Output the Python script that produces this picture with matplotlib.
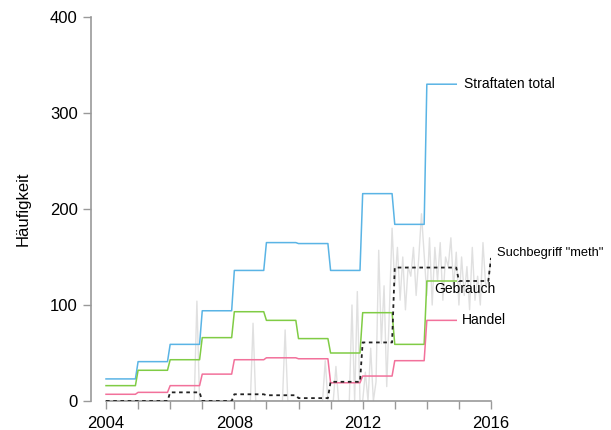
import numpy as np
import matplotlib
matplotlib.use("Agg")
import matplotlib.pyplot as plt

plt.rcParams['font.family'] = ['Liberation Sans', 'DejaVu Sans']

# Jahreswerte Polizeistatistik 2004-2014
years = np.arange(2004, 2015)
straftaten_total = [23, 41, 59, 94, 136, 165, 164, 136, 216, 184, 330]
gebrauch = [16, 32, 43, 66, 93, 84, 65, 50, 92, 59, 125]
handel = [7, 9, 16, 28, 43, 45, 44, 19, 26, 42, 84]

# Suchbegriff "meth": Jahresmittel 2004-2016 (2016 nur Januar)
meth_years = np.arange(2004, 2017)
meth_yearly = [0, 0, 9, 0, 7, 6, 3, 20, 61, 139, 139, 125, 149]

# monatliche Suchanfragen (Index), 2004-01 bis 2016-01
meth_monthly = (
    [0] * 12 +
    [0] * 12 +
    [0, 0, 0, 0, 0, 0, 0, 0, 0, 0, 104, 0] +
    [0] * 12 +
    [0, 0, 0, 0, 0, 0, 0, 81, 0, 0, 0, 0] +
    [0, 0, 0, 0, 0, 0, 0, 74, 0, 0, 0, 0] +
    [0, 0, 0, 0, 0, 0, 0, 0, 0, 0, 42, 0] +
    [0, 0, 36, 0, 0, 0, 0, 0, 100, 0, 114, 0] +
    [0, 30, 0, 55, 0, 20, 157, 60, 120, 15, 95, 180] +
    [120, 160, 105, 150, 95, 140, 130, 160, 110, 150, 195, 153] +
    [110, 170, 100, 160, 125, 165, 105, 150, 140, 170, 118, 155] +
    [100, 150, 110, 140, 95, 160, 105, 130, 100, 165, 120, 125] +
    [149]
)

blue = '#5AB4E5'
green = '#80CC45'
pink = '#F2719B'
axis_grey = '#999999'


def monthly(yrs, values):
    # jeder Jahreswert wird auf 12 Monate verteilt
    x = (np.repeat(yrs, 12) + np.tile(np.arange(12) / 12, len(yrs)))
    return x, np.repeat(values, 12)


fig = plt.figure(figsize=(6.11, 4.30), dpi=100)
ax = fig.add_axes([91 / 611, 29 / 430, 400 / 611, 384 / 430])

x_month = 2004 + np.arange(len(meth_monthly)) / 12
ax.plot(x_month, meth_monthly, color='#E0E0E0', lw=1.0, zorder=1)

x, y = monthly(years, straftaten_total)
ax.plot(x, y, color=blue, lw=1.1, zorder=3)
x, y = monthly(years, gebrauch)
ax.plot(x, y, color=green, lw=1.1, zorder=3)
x, y = monthly(years, handel)
ax.plot(x, y, color=pink, lw=1.1, zorder=3)

xm, ym = monthly(meth_years[:-1], meth_yearly[:-1])
xm = np.append(xm, meth_years[-1])
ym = np.append(ym, meth_yearly[-1])
ax.plot(xm, ym, color='#222222', lw=1.3, ls=(0, (2, 2)), zorder=4)

ax.set_xlim(2004 - 15 / 32.08, 2016)
ax.set_ylim(0, 400)

for s in ['top', 'right']:
    ax.spines[s].set_visible(False)
ax.spines['left'].set_color(axis_grey)
ax.spines['bottom'].set_color(axis_grey)
ax.spines['left'].set_bounds(0, 400)
ax.spines['bottom'].set_bounds(2004, 2016)
ax.spines['left'].set_linewidth(1.2)
ax.spines['bottom'].set_linewidth(1.2)

ax.set_xticks(np.arange(2004, 2017))
ax.set_xticklabels([str(t) if t % 4 == 0 else '' for t in range(2004, 2017)])
ax.set_yticks([0, 100, 200, 300, 400])
ax.tick_params(axis='both', colors=axis_grey, labelcolor='black',
               labelsize=12, length=5.5, width=1.0)
ax.tick_params(axis='y', pad=4)
ax.tick_params(axis='x', pad=5)

ax.set_ylabel('Häufigkeit', fontsize=12, labelpad=14)

lab = dict(fontsize=10, va='center', ha='left', clip_on=False)
ax.text(2015.15, 330, 'Straftaten total', **lab)
ax.text(2016.2, 154, 'Suchbegriff "meth"', fontsize=9.3, va='center', ha='left', clip_on=False)
ax.text(2014.22, 117, 'Gebrauch', **lab)
ax.text(2015.1, 84, 'Handel', **lab)

fig.savefig('out.png', dpi=100)
